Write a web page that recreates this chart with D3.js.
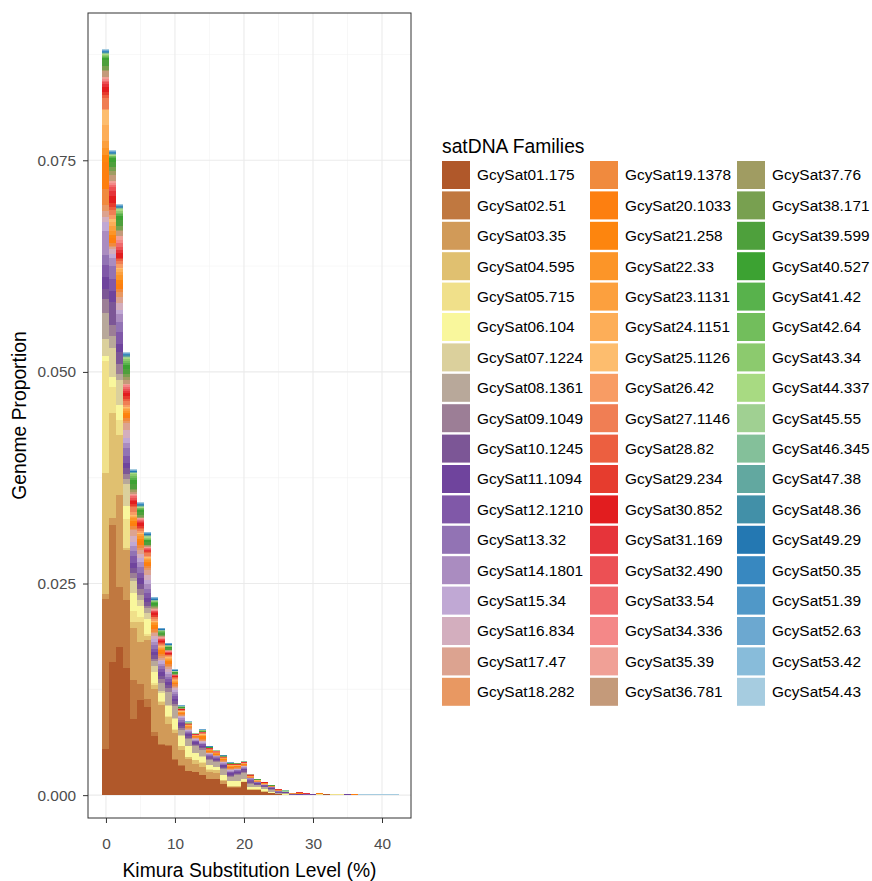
<!DOCTYPE html>
<html>
<head>
<meta charset="utf-8">
<script src="https://cdn.jsdelivr.net/npm/d3@7/dist/d3.min.js"></script>
<style>
body{margin:0;background:#fff}
text{font-family:"Liberation Sans",Arial,Helvetica,sans-serif}
</style>
</head>
<body>
<div id="chart"></div>
<script>
var families = ["GcySat01.175","GcySat02.51","GcySat03.35","GcySat04.595","GcySat05.715","GcySat06.104","GcySat07.1224","GcySat08.1361","GcySat09.1049","GcySat10.1245","GcySat11.1094","GcySat12.1210","GcySat13.32","GcySat14.1801","GcySat15.34","GcySat16.834","GcySat17.47","GcySat18.282",
"GcySat19.1378","GcySat20.1033","GcySat21.258","GcySat22.33","GcySat23.1131","GcySat24.1151","GcySat25.1126","GcySat26.42","GcySat27.1146","GcySat28.82","GcySat29.234","GcySat30.852","GcySat31.169","GcySat32.490","GcySat33.54","GcySat34.336","GcySat35.39","GcySat36.781",
"GcySat37.76","GcySat38.171","GcySat39.599","GcySat40.527","GcySat41.42","GcySat42.64","GcySat43.34","GcySat44.337","GcySat45.55","GcySat46.345","GcySat47.38","GcySat48.36","GcySat49.29","GcySat50.35","GcySat51.39","GcySat52.63","GcySat53.42","GcySat54.43"]

var familyColors = ["#B0582A","#C07840","#D19A58","#E0C070","#F0E08A","#F9F79C","#DBD09C","#B8A89A","#9C7E96","#7C5696","#6F449D","#8058A8","#9273B4","#AA8CC0","#C0A8D4","#D3AEBE","#DCA390","#E89862",
"#F08A3E","#FD7F10","#FD850E","#FC9528","#FCA03E","#FDAE58","#FDBD6E","#F89C64","#F07E54","#EC5F40","#E63C2E","#E21D1F","#E6343A","#EC5054","#F06A6C","#F48888","#F0A096","#C49A7A",
"#A09C62","#78A050","#4EA03C","#3CA232","#58B24C","#72BE5C","#8CCA6E","#A8DA82","#A0D092","#84C09A","#62A8A0","#4290A8","#2478B2","#3888C0","#5098C8","#6CA8D0","#88BCDA","#A6CCE0"]

var kimuraBins = [0,1,2,3,4,5,6,7,8,9,10,11,12,13,14,15,16,17,18,19,20,21,22,23,24,25,26,27,28,29,30,31,32,33,34,35,36,37,38,39,40,41,42]

// genome proportion x 1e-4, one array per Kimura bin, families 01..54 (missing = 0)
var k00 = [54,178,6,142,133,6,20,30, 17,12,14,14,12,28,11,6,7, 7,19,32,8,8,9,19,17, 2,12,4,4,5,4,2,2,2,2, 7,2,4, 8,2,1,1,1,1, .6,.6,.6,.6,.6,.6,.6,.6,.6,.6]
var k01 = [157,162,9,123,31,12,34,15, 12,28,13,14,15,9,5,6,2, 2,3,6,4,5,5,5,4, 4,6,4,4,9,6,5,2,2,2, 8,4,5, 6,5,1,1,.5,.5, .6,.6,.6,.6,.6,.6,.6,.6,.6,.6]
var k02 = [175,71,108,71,18,18,30,6, 12,15,9,14,12,9,5,8,7, 6,4,6,5,5,4,4,1, 4,4,2,2,5,4,4,4,4,4, 6,2,4, 7,5,2,2,2,2, .6,.6,.6,.6,.6,.6,.6,.6,.6,.6]
var k03 = [150,80,60,2,34,15,26,6, 6,7,6,9,9,6,6,9,9, 2,3,4,3,2,2,1,1, 3,5,2,3,4,3,2,2,2,2, 4,4,4, 5,5,3,2,2,2, .6,.6,.6,.6,.6,.6,.6,.6,.6,.6]
var k04 = [90,46,61,7,14,21,14,4, 5,6,6,8,7,5,5,7,7, 2,3,3,3,3,2,1,1, 4,5,2,2,3,2,2,2,2,1, 2,2,2, 5,5,3,2,2,1, .5,.5,.5,.5,.5,.5,.5,.5,.5,.5]
var k05 = [112,19,50,24,6,12,8,6, 6,7,6,7,7,5,5,5,5, 2,4,4,3,3,2,1,1, 2,3,1,2,3,2,1,1,1,1, 1,1,2, 3,3,1,1,.5,.5, .6,.6,.6,.6,.6,.6,.6,.6,.6,.6]
var k06 = [104,9,70,5,2,18,7,6, 3,4,5,6,5,5,5,6,6, 2,3,3,2,2,1,1,1, 2,3,1,1,1,1,1,1,.5,.5, 1,1,1, 3,2,1,1,1,1, .6,.6,.6,.6,.6,.6,.6,.6,.6,.6]
var k07 = [70,5,50,5,2,14,6,6, 3,4,4,4,4,4,4,3,3, 2,3,3,2,2,1,1,1, 2,2,1,2,2,1,1,1,1,1, 1,1,1, 2,2,1,.5,.5,0, .5,.5,.5,.5,.5,.5,.5,.5,.5,.5]
var k08 = [59,2,46,3,1,10,2,10, 4,4,5,3,3,3,3,2,2, 2,3,2,2,2,1,1,1, 1,2,1,1,1,1,1,1,1,1, 1,.5,.5, 2,1,1,.5,.5,0, .4,.4,.4,.4,.4,.4,.4,.4,.4,.4]
var k09 = [58,1,25,8,1,12,2,15, 4,4,4,3,3,3,3,3,2, 2,2,2,2,1,1,1,1, 1,1,1,1,1,.5,.5,.5,.5,0, 1,.5,.5, 1.5,1,.5,.5,.5,0, .4,.4,.4,.4,.4,.4,.4,.4,.4,.4]
var k10 = [42,1,30,4,1,12,1,14, 3,3,3,3,3,2,2,2,2, 1,2,1,1,1,1,.5,.5, 1,1,1,1,.5,.5,.5,.5,0,0, .5,.5,0, 1,1,.5,.5,0,0, .3,.3,.3,.3,.3,.3,.3,.3,.3,.3]
var k11 = [35,.5,18,4,.5,12,1,6, 2,3,3,2,2,2,1,1,1, 1,1,1,.5,.5,.5,.3,.2, .5,.5,.5,.5,.5,.2,.1,.1,.05,.05, .3,.1,.1, .8,.6,.3,.2,.1,0, .2,.2,.2,.2,.2,.2,.2,.2,.2,.2]
var k12 = [28,.5,14,2,.5,13,.5,8, 1.5,2,2,1.5,1,1,1,1,1, .5,1,.5,.5,.5,.5,.3,.2, .4,.4,.3,.3,.2,.1,.1,.1,.05,.05, .1,.1,.1, .4,.3,.1,.1,.1,0, .15,.15,.15,.15,.15,.15,.15,.15,.15,.15]
var k13 = [27,.3,10,4,.3,8,.3,8, 1.5,1.5,1.5,1,1,1,1,.5,.5, .5,.8,.5,.4,.3,.2,.2,.1, .3,.3,.2,.2,.2,.1,.05,.05,0,0, .1,.05,.05, .3,.2,.1,.1,.1,0, .1,.1,.1,.1,.1,.1,.1,.1,.1,.1]
var k14 = [24,.3,9,5,.3,7,.3,8, 1.5,1.5,1.5,1.5,1,1,1,.5,.5, 1,2,1.5,1,1,.8,.4,.3, .5,.5,.3,.3,.3,.2,.2,.1,.05,.05, .2,.2,.1, .6,.4,.2,.2,.1,0, .15,.15,.15,.15,.15,.15,.15,.15,.15,.15]
var k15 = [19,.2,8,3,.2,5,.2,6, 1.5,1.5,1,1,1,.8,.6,.3,.3, .5,1,.8,.6,.5,.3,.2,.1, .3,.3,.3,.3,.3,.1,.1,.1,0,0, .1,.1,.1, .5,.3,.2,.1,.1,0, .1,.1,.1,.1,.1,.1,.1,.1,.1,.1]
var k16 = [19,.2,7,3,.2,4,.2,6, 1.2,1.2,1,1,1,.7,.5,.2,.2, .5,.8,.7,.5,.4,.3,.2,.1, .25,.25,.2,.2,.2,.2,.1,.1,0,0, .1,.1,.1, .3,.2,.1,.1,.1,0, .08,.08,.08,.08,.08,.08,.08,.08,.08,.08]
var k17 = [13,.2,3,2,.2,5,.2,7, 1.5,1.5,1.5,1,1,1,1,.3,.2, .5,1,.8,.6,.5,.3,.2,.1, .3,.3,.3,.3,.3,.1,.1,.1,0,0, .1,.1,.1, .3,.2,.1,.1,.1,0, .1,.1,.1,.1,.1,.1,.1,.1,.1,.1]
var k18 = [9,.1,1,1,.1,5,.1,5, 1.5,1.5,1.5,1,1,1,1,.3,.2, .6,1.2,1,.7,.6,.4,.3,.2, .3,.3,.2,.2,.2,.2,.1,.1,0,0, .1,.1,.1, .4,.3,.1,.1,.1,0, .05,.05,.05,.05,.05,.05,.05,.05,.05,.05]
var k19 = [9,.1,1,1,.1,6,.1,6, 1.5,1.5,1,1,1,.8,.6,.3,.3, .5,1,.8,.6,.5,.3,.2,.1, .3,.3,.3,.3,.3,.1,.1,.1,0,0, .1,.1,.1, .2,.1,.1,.05,.05,0, .04,.04,.04,.04,.04,.04,.04,.04,.04,.04]
var k20 = [15,.1,.5,.5,.1,3,.1,7, 1.5,1.5,1,1,1,.8,.6,.3,.3, .4,.8,.6,.4,.3,.2,.2,.1, .25,.25,.2,.2,.3,.1,.1,.1,0,0, .1,.05,.05, .2,.2,.1,.05,.05,0, .05,.1,.1,.1,.05,.05,.05,.05,.05,.05]
var k21 = [6,.1,.5,.5,.1,2,.1,4, 1.5,1.5,1,1,.8,.6,.3,.2,.1, .3,.5,.4,.3,.2,.1,.1,.1, .25,.25,.3,.3,.5,.2,.1,.1,0,0, .1,.05,.05, .1,.1,.05,.05,0,0, .06,.06,.06,.06,.06,.06,.06,.06,.06,.06]
var k22 = [6,.1,.3,.3,.1,2.5,.1,2, 1,1,.6,.6,.5,.4,.2,.1,.1, .2,.4,.3,.2,.2,.1,.05,.05, .15,.15,.1,.1,.1,.1,.05,.05,0,0, .1,.05,.05, .4,.3,.1,.1,.1,0, .02,.02,.02,.02,.02,.02,.02,.02,.02,.02]
var k23 = [4,0,.3,.3,0,3,0,1.5, .8,.8,.5,.5,.4,.3,.1,.05,.05, .2,.4,.3,.2,.2,.1,.05,.05, .1,.1,.2,.2,.3,.2,.1,0,0,0, .05,.05,0, .1,.05,.05,0,0,0, .02,.02,.02,.02,.02,.02,.02,.02,.02,.02]
var k24 = [2,0,.2,.2,0,1.5,0,2, .8,.8,.6,.6,.5,.4,.2,.05,.05, .1,.3,.2,.1,.1,.1,.05,.05, .1,.1,.1,.1,0,0,0,0,0,0, 0,0,0, .4,.3,.1,.1,.1,0, .02,.02,.02,.02,.02,.02,.02,.02,.02,.02]
var k25 = [1,0,0,0,0,.5,0,1, .5,.5,.4,.4,.3,.2,.1,.05,.05, .2,.4,.3,.2,.2,.1,.05,.05, 0,0,.1,.1,.1,0,0,0,0,0, 0,0,0, .05,.05,0,0,0,0, .01,.01,.01,.01,.01,.01,.01,.01,.01,.01]
var k26 = [.5,0,0,0,0,1,0,1, .3,.3,.3,.2,.2,.1,.1,0,0, .05,.1,.05,.05,.05,0,0,0, 0,0,0,0,0,0,0,0,0,0, 0,0,0, 0,0,0,0,0,0, .5,.8,.5]
var k27 = [.3,0,0,0,0,0,0,0, .3,.3,.3,.2,.2,.1,.1,0,0, .1,.3,.2,.1,.1,.1,.05,.05, 0,0,.1,.1,.1]
var k28 = [.3,0,0,0,0,0,0,0, .2,.2,.2,.2,.1,.1,0,0,0, .1,.3,.2,.1,.1,.1,.05,.05, 0,0,.2,.3,.3,.2]
var k29 = [0,0,0,0,0,0,0,0, .2,.2,.2,.2,.1,.1,0,0,0, 0,.1,.1,.05,.05,0,0,0, 0,0,.2,.2,.2,.1]
var k30 = [.5,0,0,0,0,0,0,0, .1,.1,.1,.1,.1,0,0,0,0, 0,0,0,0,0,0,0,0, 0,0,0,0,0,0,0,0,0,0, 0,0,0, 0,0,0,0,0,0, 0,0,0,0,0,0,0,0,0,.8]
var k31 = [0,0,0,0,1,0,0,0, 0,0,0,0,0,0,0,0,0, .2,.6,.5,.3,.2,.1,.05,.05]
var k32 = [1.2]
var k33 = [.5,0,0,0,.8]
var k34 = [.6,0,0,0,.6]
var k35 = [0,0,0,0,0,0,0,0, 0,0,1.2]
var k36 = [0,0,0,0,0,0,0,0, 0,0,0,0,0,0,0,0,0, 0,0,1.2]
var k37 = [0,0,0,0,0,0,0,0, 0,0,0,0,0,0,0,0,0, 0,0,0,0,0,0,0,0, 0,0,0,0,0,0,0,0,0,0, 0,0,0, 0,0,0,0,0,0, 0,0,0,0,0,0,0,0,0,1]
var k38 = [0,0,0,0,0,0,0,0, 0,0,0,0,0,0,0,0,0, 0,0,0,0,0,0,0,0, 0,0,0,0,0,0,0,0,0,0, 0,0,0, 0,0,0,0,0,0, 0,0,0,0,0,0,0,0,0,1]
var k39 = [0,0,0,0,0,0,0,0, 0,0,0,0,0,0,0,0,0, 0,0,0,0,0,0,0,0, 0,0,0,0,0,0,0,0,0,0, 0,0,0, 0,0,0,0,0,0, 0,0,0,0,0,0,0,0,0,1]
var k40 = [0,0,0,0,0,0,0,0, 0,0,0,0,0,0,0,0,0, 0,0,0,0,0,0,0,0, 0,0,0,0,0,0,0,0,0,0, 0,0,0, 0,0,0,0,0,0, 0,0,0,0,0,0,0,0,0,1]
var k41 = [0,0,0,0,0,0,0,0, 0,0,0,0,0,0,0,0,0, 0,0,0,0,0,0,0,0, 0,0,0,0,0,0,0,0,0,0, 0,0,0, 0,0,0,0,0,0, 0,0,0,0,0,0,0,0,0,1]
var k42 = [0,0,0,0,0,0,0,0, 0,0,0,0,0,0,0,0,0, 0,0,0,0,0,0,0,0, 0,0,0,0,0,0,0,0,0,0, 0,0,0, 0,0,0,0,0,0, 0,0,0,0,0,0,0,0,0,1]

var binValues = [k00,k01,k02,k03,k04,k05,k06,k07,k08,k09,k10,k11,k12,k13,k14,k15,k16,k17,k18,k19,k20,k21,k22,k23,k24,k25,k26,k27,k28,k29,k30,k31,k32,k33,k34,k35,k36,k37,k38,k39,k40,k41,k42]

var yTicks = [0,0.025,0.05,0.075]
var yMinor = [0.0125,0.0375,0.0625,0.0875]
var xTicks = [0,10,20,30,40]
var xMinor = [5,15,25,35]

function histogram(){
    var svg = d3.select("#chart").append("svg").attr("width",872).attr("height",881)

    var left = 88, right = 411, top = 13, bottom = 818
    var x = d3.scaleLinear().domain([-2.6,44.2]).range([left,right])
    var y = d3.scaleLinear().domain([-0.0027,0.0924]).range([bottom,top])

    var table = kimuraBins.map(function(k,i){
        var row = {bin:k}
        families.forEach(function(f,j){ row[f] = (binValues[i][j] || 0)/1e4 })
        return row
    })
    var layers = d3.stack().keys(families)(table)
    var color = d3.scaleOrdinal().domain(families).range(familyColors)

    // grid
    var grid = svg.append("g")
    grid.selectAll(".ymin").data(yMinor).enter().append("line")
        .attr("x1",left).attr("x2",right).attr("y1",y).attr("y2",y)
        .attr("stroke","#f2f2f2").attr("stroke-width",0.6)
    grid.selectAll(".xmin").data(xMinor).enter().append("line")
        .attr("y1",top).attr("y2",bottom).attr("x1",x).attr("x2",x)
        .attr("stroke","#f2f2f2").attr("stroke-width",0.6)
    grid.selectAll(".ymaj").data(yTicks).enter().append("line")
        .attr("x1",left).attr("x2",right).attr("y1",y).attr("y2",y)
        .attr("stroke","#ebebeb").attr("stroke-width",1.1)
    grid.selectAll(".xmaj").data(xTicks).enter().append("line")
        .attr("y1",top).attr("y2",bottom).attr("x1",x).attr("x2",x)
        .attr("stroke","#ebebeb").attr("stroke-width",1.1)

    // stacked bars
    svg.append("g").selectAll("g")
        .data(layers)
        .enter().append("g")
        .attr("fill",function(d){return color(d.key)})
        .selectAll("rect")
        .data(function(d){return d})
        .enter().append("rect")
        .attr("x",function(d){return x(d.data.bin-0.5)})
        .attr("width",function(d){return x(d.data.bin+0.5)-x(d.data.bin-0.5)})
        .attr("y",function(d){return y(d[1])})
        .attr("height",function(d){return Math.max(0,y(d[0])-y(d[1]))})
        .attr("shape-rendering","crispEdges")

    svg.append("rect").attr("x",left).attr("y",top)
        .attr("width",right-left).attr("height",bottom-top)
        .attr("fill","none").attr("stroke","#333").attr("stroke-width",1)

    // axes
    var yAxis = svg.append("g").attr("transform","translate("+left+",0)")
        .call(d3.axisLeft(y).tickValues(yTicks).tickFormat(d3.format(".3f")).tickSizeOuter(0).tickSize(5))
    var xAxis = svg.append("g").attr("transform","translate(0,"+bottom+")")
        .call(d3.axisBottom(x).tickValues(xTicks).tickSizeOuter(0).tickSize(5))
    ;[yAxis,xAxis].forEach(function(a){
        a.select(".domain").remove()
        a.selectAll(".tick line").attr("stroke","#333")
        a.selectAll(".tick text").attr("fill","#4d4d4d").style("font-size","15.4px")
    })
    yAxis.selectAll(".tick text").attr("x",-12)
    xAxis.selectAll(".tick text").attr("y",26).attr("dy","0.35em")

    svg.append("text").text("Kimura Substitution Level (%)")
        .attr("x",(left+right)/2).attr("y",877).attr("text-anchor","middle")
        .style("font-size","19.3px").attr("fill","#000")
    svg.append("text").text("Genome Proportion")
        .attr("transform","translate(26,"+((top+bottom)/2)+") rotate(-90)")
        .attr("text-anchor","middle").style("font-size","19.3px").attr("fill","#000")

    // legend
    var legend = svg.append("g")
    legend.append("text").text("satDNA Families").attr("x",442).attr("y",153)
        .style("font-size","19.3px").attr("fill","#000")
    var colX = [442,590,737]
    var items = legend.selectAll(".item").data(families).enter().append("g")
        .attr("transform",function(d,i){
            var c = Math.floor(i/18), r = i%18
            return "translate("+colX[c]+","+(161+r*30.4)+")"
        })
    items.append("rect").attr("width",28).attr("height",28)
        .attr("fill",function(d){return color(d)})
    items.append("text").text(function(d){return d})
        .attr("x",35).attr("y",14).attr("dy","0.35em")
        .style("font-size","15.4px").attr("fill","#000")
}
histogram()
</script>
</body>
</html>
